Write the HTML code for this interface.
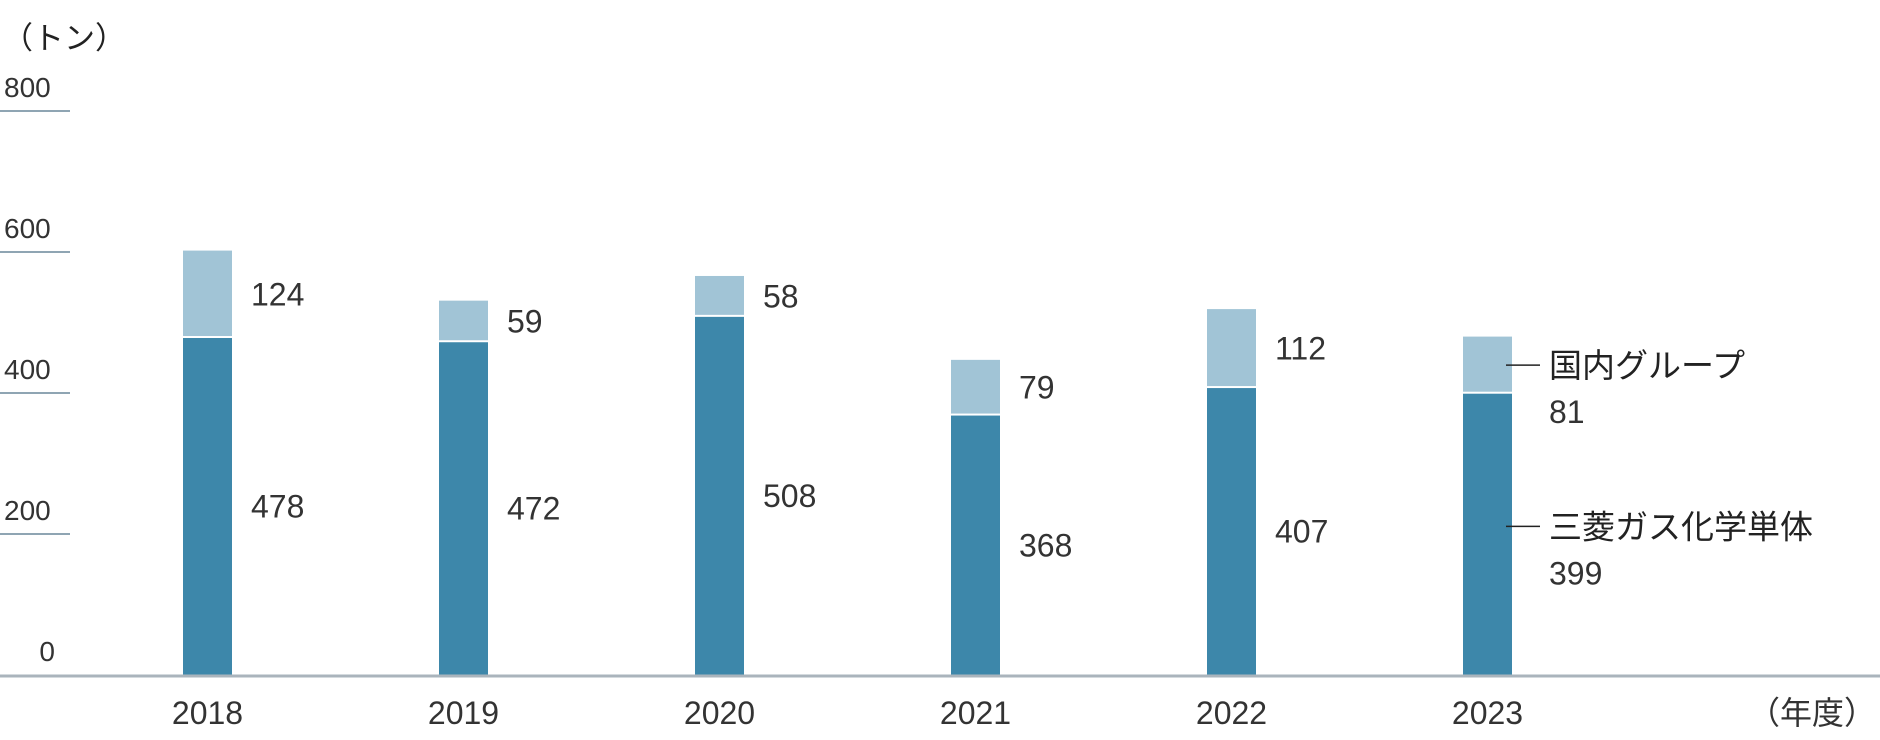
<!DOCTYPE html>
<html><head><meta charset="utf-8">
<style>
html,body{margin:0;padding:0;background:#fff;}
svg{display:block;font-family:"Liberation Sans","Noto Sans CJK JP",sans-serif;}
</style></head>
<body>
<svg id="chart" width="1880" height="740" viewBox="0 0 1880 740" xmlns="http://www.w3.org/2000/svg">
<text x="2" y="49" font-size="31" fill="#222">（トン）</text>
<g id="grid"></g>
<g id="bars"></g>
<line x1="0" y1="676" x2="1880" y2="676" stroke="#aab4bc" stroke-width="3"/>
<g id="xlabels"></g>
<text x="1876" y="724" font-size="32" fill="#333" text-anchor="end">（年度）</text>
</svg>
<script>
const categories = ["2018","2019","2020","2021","2022","2023"];
const standalone = [478,472,508,368,407,399];
const group = [124,59,58,79,112,81];
const yTicks = [0,200,400,600,800];
const seriesNames = ["国内グループ","三菱ガス化学単体"];

const NS="http://www.w3.org/2000/svg";
const base=675, k=0.705, x0=207.5, step=256, bw=49;
const y = v => base - v*k;
const xc = i => x0 + i*step;
function mk(tag, attrs, parent){const e=document.createElementNS(NS,tag);for(const a in attrs)e.setAttribute(a,attrs[a]);parent.appendChild(e);return e;}
const grid=document.getElementById('grid'), bars=document.getElementById('bars'), xl=document.getElementById('xlabels');
yTicks.forEach(t=>{
  if(t>0){const l=mk('line',{x1:0,x2:70,y1:y(t),y2:y(t),stroke:'#8fa5b3','stroke-width':2},grid);
  
  }
  const tx=mk('text',{x:t===0?55:4,y:y(t)-14,'font-size':28,fill:'#333','text-anchor':t===0?'end':'start'},grid);
  tx.textContent=t;
  
  
});
categories.forEach((c,i)=>{
  const cx=xc(i), left=cx-bw/2, last=i===categories.length-1;
  const r1=mk('rect',{x:left,y:y(standalone[i]),width:bw,height:standalone[i]*k,fill:'#3d87aa'},bars);
  
  
  const top=standalone[i]+group[i];
  const r2=mk('rect',{x:left,y:y(top),width:bw,height:group[i]*k-2,fill:'#a1c4d6'},bars);
  
  
  const mDark=(y(0)+y(standalone[i]))/2, mLight=(y(standalone[i])+y(top))/2;
  if(!last){
    const a=mk('text',{x:left+bw+19,y:mLight+11,'font-size':32,fill:'#333'},bars);
    a.textContent=group[i];
    
    
    const b=mk('text',{x:left+bw+19,y:mDark+11,'font-size':32,fill:'#333'},bars);
    b.textContent=standalone[i];
    
    
  } else {
    [[mLight,group[i],seriesNames[0],'group'],[mDark-8,standalone[i],seriesNames[1],'standalone']].forEach(([my,v,nm,key])=>{
      const ln=mk('line',{x1:left+bw-6,x2:left+bw+28,y1:my,y2:my,stroke:'#222','stroke-width':1.5},bars);
      
      
      const n=mk('text',{x:left+bw+37,y:my+12,'font-size':33,fill:'#222'},bars);
      n.textContent=nm;
      
      
      const vv=mk('text',{x:left+bw+37,y:my+58,'font-size':32,fill:'#333'},bars);
      vv.textContent=v;
      
      
    });
  }
  const t=mk('text',{x:cx,y:724,'font-size':32,fill:'#333','text-anchor':'middle'},xl);
  t.textContent=c;
  
  
});
</script>
</body></html>
